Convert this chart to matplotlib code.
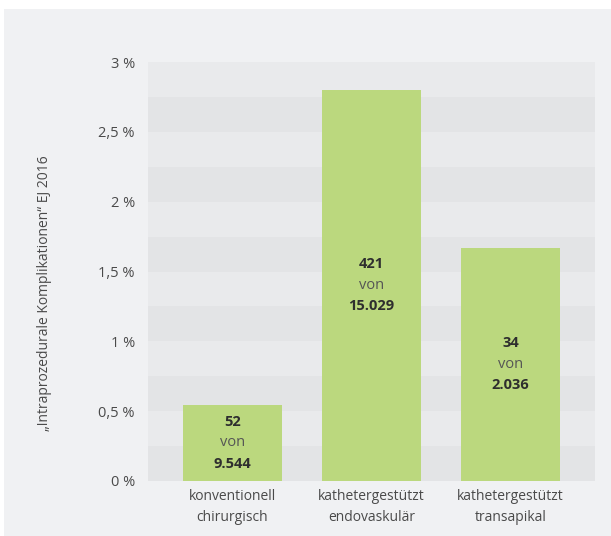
import matplotlib.pyplot as plt
from matplotlib.patches import Rectangle

# Komplikationen je Verfahren (Anzahl Fälle / Gesamtzahl)
categories = ["konventionell\nchirurgisch", "kathetergestützt\nendovaskulär", "kathetergestützt\ntransapikal"]
complications = [52, 421, 34]
totals = [9544, 15029, 2036]
count_labels = ["52", "421", "34"]
total_labels = ["9.544", "15.029", "2.036"]
yticks = [0, 0.5, 1, 1.5, 2, 2.5, 3]
ytick_labels = ["0 %", "0,5 %", "1 %", "1,5 %", "2 %", "2,5 %", "3 %"]

rates = [100 * c / t for c, t in zip(complications, totals)]

plt.rcParams['font.family'] = ['Open Sans', 'DejaVu Sans']

BG = "#f0f1f3"
BAND_LIGHT = "#e9eaec"
BAND_DARK = "#e3e4e6"
GREEN = "#bbd87e"
TEXT = "#4a4a4a"

fig = plt.figure(figsize=(6.11, 5.36), dpi=100)
fig.patch.set_facecolor("white")
fig.patches.append(Rectangle((4 / 611, 0), 1, 1 - 9 / 536, transform=fig.transFigure,
                             facecolor=BG, edgecolor="none", zorder=-10))

ax = fig.add_axes([148 / 611, 1 - 481 / 536, 447 / 611, 419 / 536])
ax.set_xlim(-0.608, 2.608)
ax.set_ylim(0, 3)

# alternating horizontal bands every 0.25 %
for i in range(12):
    lo = i * 0.25
    ax.axhspan(lo, lo + 0.25, color=BAND_DARK if i % 2 == 0 else BAND_LIGHT, lw=0, zorder=0)

x = range(len(categories))
ax.bar(x, rates, width=0.712, color=GREEN, zorder=2)

for xi, r, n, tot in zip(x, rates, count_labels, total_labels):
    mid = r / 2
    ax.text(xi, mid, "von", ha="center", va="center", fontsize=10.5, color="#555555", zorder=3)
    ax.text(xi, mid + 0.152, n, ha="center", va="center", fontsize=10.5,
            fontweight="bold", color="#2e2e2e", zorder=3)
    ax.text(xi, mid - 0.148, tot, ha="center", va="center", fontsize=10.5,
            fontweight="bold", color="#2e2e2e", zorder=3)

ax.set_yticks(yticks)
ax.set_yticklabels(ytick_labels, fontsize=10.5, color=TEXT)
ax.set_xticks(list(x))
ax.set_xticklabels(categories, fontsize=10, color=TEXT, linespacing=1.5)
ax.tick_params(axis="both", length=0)
ax.tick_params(axis="y", pad=9.5)
ax.tick_params(axis="x", pad=6)
for s in ax.spines.values():
    s.set_visible(False)
ax.set_facecolor(BG)

fig.text(45 / 611, 1 - 293 / 536, "„Intraprozedurale Komplikationen\u201c EJ 2016",
         rotation=90, ha="center", va="center", fontsize=10, color=TEXT)

fig.savefig("out.png", dpi=100, facecolor=fig.get_facecolor())
